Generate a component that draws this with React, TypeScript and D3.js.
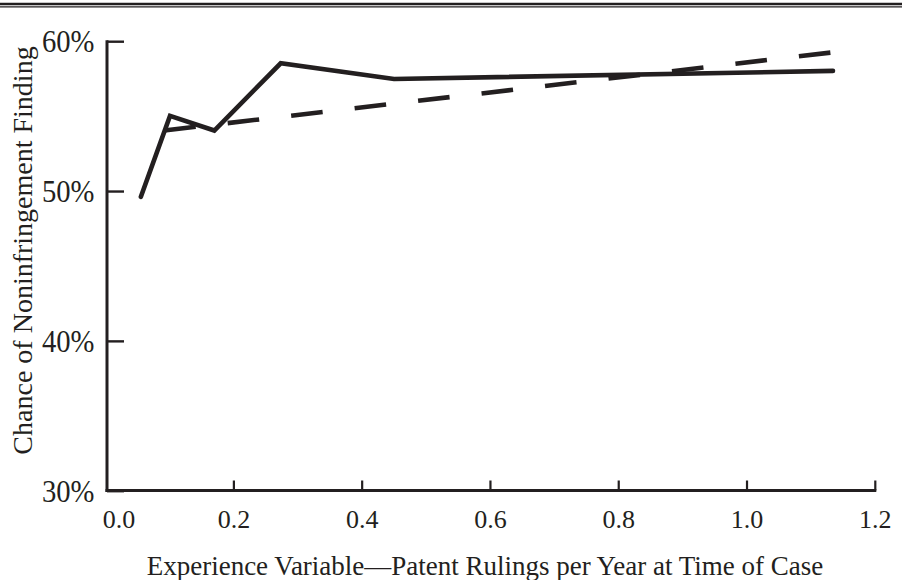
import React from "react";
import * as d3 from "d3";

const solidX = [0.055, 0.1004, 0.1695, 0.273, 0.4497, 1.134];
const solidY = [0.4965, 0.5505, 0.5407, 0.5856, 0.5751, 0.5805];
const dashX = [0.055, 1.134];
const dashY = [0.5389, 0.5929];
const xTicks = [0, 0.2, 0.4, 0.6, 0.8, 1.0, 1.2];
const yTicks = [0.3, 0.4, 0.5, 0.6];
const xTitle = "Experience Variable\u2014Patent Rulings per Year at Time of Case";
const yTitle = "Chance of Noninfringement Finding";

const W = 902;
const H = 580;
const INK = "#231f20";
const FONT = "'Liberation Serif', 'Times New Roman', serif";

export default function App() {
  const x = d3.scaleLinear().domain([0, 1.2]).range([105.6, 875.3]);
  const y = d3.scaleLinear().domain([0.3, 0.6]).range([491.2, 41.7]);
  const line = d3
    .line<[number, number]>()
    .x((d) => x(d[0]))
    .y((d) => y(d[1]));
  const solid = line(solidX.map((v, i) => [v, solidY[i]] as [number, number])) || "";
  const dashed = line(dashX.map((v, i) => [v, dashY[i]] as [number, number])) || "";
  const axisY = 490.5;
  const axisX = 107;

  return (
    <svg
      width={W}
      height={H}
      style={{ position: "absolute", left: 0, top: 0, background: "#fff" }}
      fontFamily={FONT}
    >
      <rect x={0} y={0} width={W} height={H} fill="#fff" />
      {/* top double rule */}
      <line x1={0} x2={W} y1={4} y2={4} stroke={INK} strokeWidth={2.6} />
      <line x1={0} x2={W} y1={6.9} y2={6.9} stroke={INK} strokeWidth={1.3} />

      {/* axes */}
      <line x1={axisX} x2={axisX} y1={y(0.6) - 1.5} y2={axisY + 1.5} stroke={INK} strokeWidth={3} />
      <line x1={axisX - 1.5} x2={x(1.2) + 1} y1={axisY} y2={axisY} stroke={INK} strokeWidth={3} />
      {yTicks.map((t) => (
        <g key={"y" + t}>
          <line x1={axisX} x2={124} y1={y(t)} y2={y(t)} stroke={INK} strokeWidth={2.4} />
          <text
            transform={`translate(94.5,${y(t)}) scale(0.91,1)`}
            dy="0.34em"
            textAnchor="end"
            fontSize={31.5}
            fill={INK}
          >
            {d3.format(".0%")(t)}
          </text>
        </g>
      ))}
      {xTicks.map((t, i) => (
        <g key={"x" + t}>
          {i > 0 && (
            <line x1={x(t)} x2={x(t)} y1={axisY} y2={axisY - 10} stroke={INK} strokeWidth={2.2} />
          )}
          <text
            x={x(t) + (i === 0 ? 13.5 : 0)}
            y={528}
            textAnchor="middle"
            fontSize={26}
            fill={INK}
          >
            {d3.format(".1f")(t)}
          </text>
        </g>
      ))}

      {/* titles */}
      <text x={485} y={575} textAnchor="middle" fontSize={27} fill={INK}>
        {xTitle}
      </text>
      <text
        transform={`translate(32,${250.5}) rotate(-90)`}
        textAnchor="middle"
        fontSize={28}
        fill={INK}
      >
        {yTitle}
      </text>

      {/* series */}
      <path
        d={dashed}
        fill="none"
        stroke={INK}
        strokeWidth={4.6}
        strokeDasharray="31.7,32.2"
        strokeDashoffset={40.4}
      />
      <path
        d={solid}
        fill="none"
        stroke={INK}
        strokeWidth={4.6}
        strokeLinecap="round"
        strokeLinejoin="miter"
      />
    </svg>
  );
}
